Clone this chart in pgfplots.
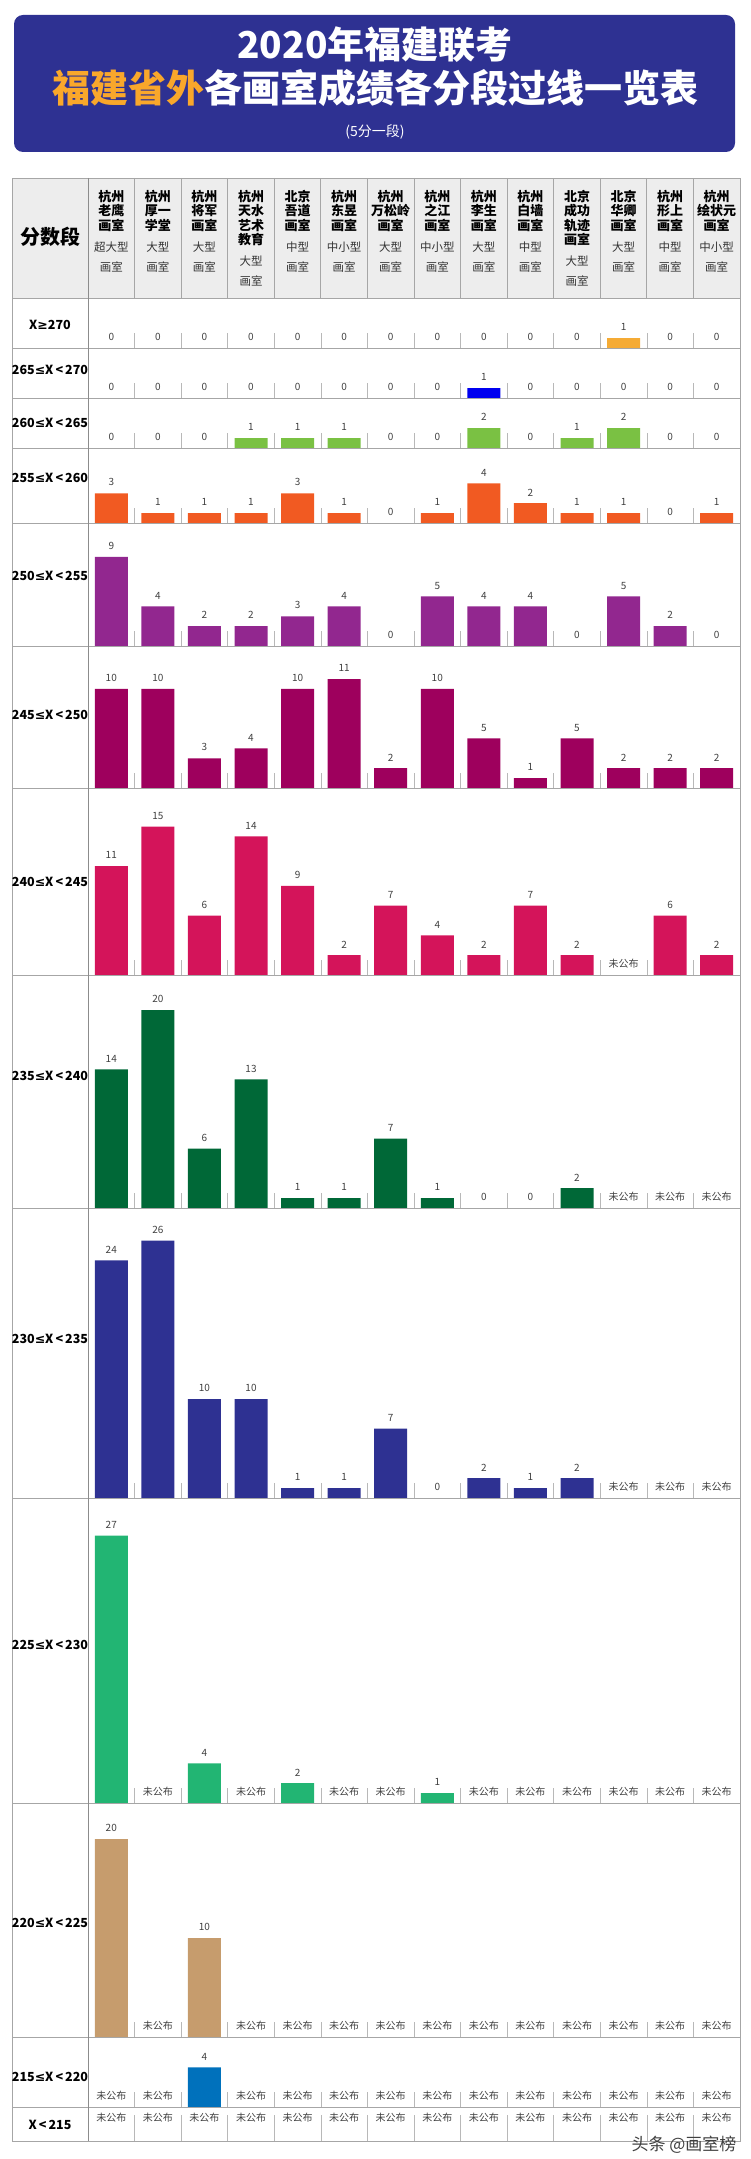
\documentclass[border=0pt]{standalone}
\usepackage{pgfplots}
\pgfplotsset{compat=1.18}
\usepackage{pgfplotstable}
\usepackage{fontspec}
\setmainfont{Noto Sans CJK SC}
\newfontfamily\djv{DejaVu Sans}
\newcommand\LE{{\djv\bfseries ≤}}
\newcommand\GE{{\djv\bfseries ≥}}

\definecolor{navy}{HTML}{2E3192}
\definecolor{ttlor}{HTML}{F9A72B}
\definecolor{hdrbg}{HTML}{EDEDED}
\definecolor{grid}{HTML}{A6A6A6}
\definecolor{cA}{HTML}{F5AB35}
\definecolor{cB}{HTML}{0000F0}
\definecolor{cC}{HTML}{7AC143}
\definecolor{cD}{HTML}{F15A22}
\definecolor{cE}{HTML}{92278F}
\definecolor{cF}{HTML}{9E005D}
\definecolor{cG}{HTML}{D4145A}
\definecolor{cH}{HTML}{006837}
\definecolor{cI}{HTML}{2E3192}
\definecolor{cJ}{HTML}{22B573}
\definecolor{cK}{HTML}{C69C6D}
\definecolor{cL}{HTML}{0071BC}

% X>=270
\pgfplotstableread{
x y l
0 0 0
1 0 0
2 0 0
3 0 0
4 0 0
5 0 0
6 0 0
7 0 0
8 0 0
9 0 0
10 0 0
11 1 1
12 0 0
13 0 0
}\tA
% 265-270
\pgfplotstableread{
x y l
0 0 0
1 0 0
2 0 0
3 0 0
4 0 0
5 0 0
6 0 0
7 0 0
8 1 1
9 0 0
10 0 0
11 0 0
12 0 0
13 0 0
}\tB
% 260-265
\pgfplotstableread{
x y l
0 0 0
1 0 0
2 0 0
3 1 1
4 1 1
5 1 1
6 0 0
7 0 0
8 2 2
9 0 0
10 1 1
11 2 2
12 0 0
13 0 0
}\tC
% 255-260
\pgfplotstableread{
x y l
0 3 3
1 1 1
2 1 1
3 1 1
4 3 3
5 1 1
6 0 0
7 1 1
8 4 4
9 2 2
10 1 1
11 1 1
12 0 0
13 1 1
}\tD
% 250-255
\pgfplotstableread{
x y l
0 9 9
1 4 4
2 2 2
3 2 2
4 3 3
5 4 4
6 0 0
7 5 5
8 4 4
9 4 4
10 0 0
11 5 5
12 2 2
13 0 0
}\tE
% 245-250
\pgfplotstableread{
x y l
0 10 10
1 10 10
2 3 3
3 4 4
4 10 10
5 11 11
6 2 2
7 10 10
8 5 5
9 1 1
10 5 5
11 2 2
12 2 2
13 2 2
}\tF
% 240-245
\pgfplotstableread{
x y l
0 11 11
1 15 15
2 6 6
3 14 14
4 9 9
5 2 2
6 7 7
7 4 4
8 2 2
9 7 7
10 2 2
11 0 未公布
12 6 6
13 2 2
}\tG
% 235-240
\pgfplotstableread{
x y l
0 14 14
1 20 20
2 6 6
3 13 13
4 1 1
5 1 1
6 7 7
7 1 1
8 0 0
9 0 0
10 2 2
11 0 未公布
12 0 未公布
13 0 未公布
}\tH
% 230-235
\pgfplotstableread{
x y l
0 24 24
1 26 26
2 10 10
3 10 10
4 1 1
5 1 1
6 7 7
7 0 0
8 2 2
9 1 1
10 2 2
11 0 未公布
12 0 未公布
13 0 未公布
}\tI
% 225-230
\pgfplotstableread{
x y l
0 27 27
1 0 未公布
2 4 4
3 0 未公布
4 2 2
5 0 未公布
6 0 未公布
7 1 1
8 0 未公布
9 0 未公布
10 0 未公布
11 0 未公布
12 0 未公布
13 0 未公布
}\tJ
% 220-225
\pgfplotstableread{
x y l
0 20 20
1 0 未公布
2 10 10
3 0 未公布
4 0 未公布
5 0 未公布
6 0 未公布
7 0 未公布
8 0 未公布
9 0 未公布
10 0 未公布
11 0 未公布
12 0 未公布
13 0 未公布
}\tK
% 215-220
\pgfplotstableread{
x y l
0 0 未公布
1 0 未公布
2 4 4
3 0 未公布
4 0 未公布
5 0 未公布
6 0 未公布
7 0 未公布
8 0 未公布
9 0 未公布
10 0 未公布
11 0 未公布
12 0 未公布
13 0 未公布
}\tL
% X<215
\pgfplotstableread{
x y l
0 0 未公布
1 0 未公布
2 0 未公布
3 0 未公布
4 0 未公布
5 0 未公布
6 0 未公布
7 0 未公布
8 0 未公布
9 0 未公布
10 0 未公布
11 0 未公布
12 0 未公布
13 0 未公布
}\tM

\pgfplotsset{rowax/.style={
  scale only axis, width=652pt, anchor=south west,
  xmin=-0.5, xmax=13.5, ymin=0,
  ybar, bar width=33pt,
  axis line style={draw=none},
  ytick=\empty, xtick={0.5,1.5,...,12.5}, xticklabels={},
  xtick pos=left, tick align=inside,
  major tick length=15pt, xtick style={draw=black!28, line width=0.7pt},
  clip=false,
  nodes near coords, point meta=explicit symbolic,
  nodes near coords style={font=\fontsize{10}{12}\selectfont, text=black!75, anchor=south, inner sep=0pt, yshift=7pt},
}}

\newcommand\hd[3]{%
 \node[anchor=north,align=center,inner sep=0pt,font=\fontsize{13}{14.3}\selectfont\bfseries] (h) at (#1,-190) {#2};
 \node[anchor=north,align=center,inner sep=0pt,font=\fontsize{11.5}{20}\selectfont,text=black!80] at ([yshift=-10pt]h.south) {#3};}

\newcommand\rl[2]{\node[font=\fontsize{12.5}{15}\selectfont\bfseries, inner sep=0pt] at (50,-#1) {#2};}

\begin{document}
\begin{tikzpicture}[x=1pt,y=1pt]
\useasboundingbox (0,0) rectangle (750,-2159);
% title box
\fill[navy, rounded corners=9pt] (14,-15) rectangle (735,-152);
\node[anchor=base, text=white, font=\fontsize{37}{39}\selectfont\bfseries] at (375,-59) {2020年福建联考};
\node[anchor=base, text=white, font=\fontsize{38}{40}\selectfont\bfseries] at (375,-103) {\textcolor{ttlor}{福建省外}各画室成绩各分段过线一览表};
\node[anchor=base, text=white, font=\fontsize{14}{16}\selectfont] at (375,-137) {(5分一段)};
% header background
\fill[hdrbg] (12,-178) rectangle (740,-298);

% rows
\begin{axis}[rowax, at={(88pt,-348pt)}, height=50pt, ymax=5.05]
\addplot[fill=cA, draw=none] table[x=x,y=y,meta=l]{\tA};
\end{axis}
\begin{axis}[rowax, at={(88pt,-398pt)}, height=50pt, ymax=5.05]
\addplot[fill=cB, draw=none] table[x=x,y=y,meta=l]{\tB};
\end{axis}
\begin{axis}[rowax, at={(88pt,-448pt)}, height=50pt, ymax=5.05]
\addplot[fill=cC, draw=none] table[x=x,y=y,meta=l]{\tC};
\end{axis}
\begin{axis}[rowax, at={(88pt,-523pt)}, height=75pt, ymax=7.58]
\addplot[fill=cD, draw=none] table[x=x,y=y,meta=l]{\tD};
\end{axis}
\begin{axis}[rowax, at={(88pt,-646pt)}, height=123pt, ymax=12.42]
\addplot[fill=cE, draw=none] table[x=x,y=y,meta=l]{\tE};
\end{axis}
\begin{axis}[rowax, at={(88pt,-788pt)}, height=142pt, ymax=14.34]
\addplot[fill=cF, draw=none] table[x=x,y=y,meta=l]{\tF};
\end{axis}
\begin{axis}[rowax, at={(88pt,-975pt)}, height=187pt, ymax=18.89]
\addplot[fill=cG, draw=none] table[x=x,y=y,meta=l]{\tG};
\end{axis}
\begin{axis}[rowax, at={(88pt,-1208pt)}, height=233pt, ymax=23.54]
\addplot[fill=cH, draw=none] table[x=x,y=y,meta=l]{\tH};
\end{axis}
\begin{axis}[rowax, at={(88pt,-1498pt)}, height=290pt, ymax=29.29]
\addplot[fill=cI, draw=none] table[x=x,y=y,meta=l]{\tI};
\end{axis}
\begin{axis}[rowax, at={(88pt,-1803pt)}, height=305pt, ymax=30.81]
\addplot[fill=cJ, draw=none] table[x=x,y=y,meta=l]{\tJ};
\end{axis}
\begin{axis}[rowax, at={(88pt,-2037pt)}, height=234pt, ymax=23.64]
\addplot[fill=cK, draw=none] table[x=x,y=y,meta=l]{\tK};
\end{axis}
\begin{axis}[rowax, at={(88pt,-2107pt)}, height=70pt, ymax=7.07]
\addplot[fill=cL, draw=none] table[x=x,y=y,meta=l]{\tL};
\end{axis}
\begin{axis}[rowax, at={(88pt,-2141pt)}, height=34pt, ymax=3.43, major tick length=26pt,
  nodes near coords style={yshift=12pt}]
\addplot[fill=cL, draw=none] table[x=x,y=y,meta=l]{\tM};
\end{axis}

% table lines
\foreach \yy in {298,348,398,448,523,646,788,975,1208,1498,1803,2037,2107}
  \draw[grid, line width=0.9pt] (12,-\yy) -- (740,-\yy);
\draw[grid, line width=0.9pt] (12,-178) rectangle (740,-2141);
\draw[black!45, line width=1pt] (88,-178) -- (88,-2141);
\foreach \k in {1,...,13}
  \draw[grid, line width=0.9pt] ({88+46.5714*\k},-178) -- ({88+46.5714*\k},-298);

% header
\node[font=\fontsize{20}{22}\selectfont\bfseries] at (50,-237) {分数段};
\hd{111.3}{杭州\\老鹰\\画室}{超大型\\画室}
\hd{157.9}{杭州\\厚一\\学堂}{大型\\画室}
\hd{204.4}{杭州\\将军\\画室}{大型\\画室}
\hd{251.0}{杭州\\天水\\艺术\\教育}{大型\\画室}
\hd{297.6}{北京\\吾道\\画室}{中型\\画室}
\hd{344.1}{杭州\\东昱\\画室}{中小型\\画室}
\hd{390.7}{杭州\\万松岭\\画室}{大型\\画室}
\hd{437.3}{杭州\\之江\\画室}{中小型\\画室}
\hd{483.9}{杭州\\李生\\画室}{大型\\画室}
\hd{530.4}{杭州\\白墙\\画室}{中型\\画室}
\hd{577.0}{北京\\成功\\轨迹\\画室}{大型\\画室}
\hd{623.6}{北京\\华卿\\画室}{大型\\画室}
\hd{670.1}{杭州\\形上\\画室}{中型\\画室}
\hd{716.7}{杭州\\绘状元\\画室}{中小型\\画室}

% row labels
\rl{325}{X\GE270}
\rl{370}{265\LE X\,<\,270}
\rl{423}{260\LE X\,<\,265}
\rl{478}{255\LE X\,<\,260}
\rl{576}{250\LE X\,<\,255}
\rl{715}{245\LE X\,<\,250}
\rl{882}{240\LE X\,<\,245}
\rl{1076}{235\LE X\,<\,240}
\rl{1339}{230\LE X\,<\,235}
\rl{1645}{225\LE X\,<\,230}
\rl{1923}{220\LE X\,<\,225}
\rl{2077}{215\LE X\,<\,220}
\rl{2125}{X\,<\,215}

% footer mark
\node[text=black!75, font=\fontsize{17}{19}\selectfont, inner sep=0pt] at (684,-2145) {头条 @画室榜};
\end{tikzpicture}
\end{document}
